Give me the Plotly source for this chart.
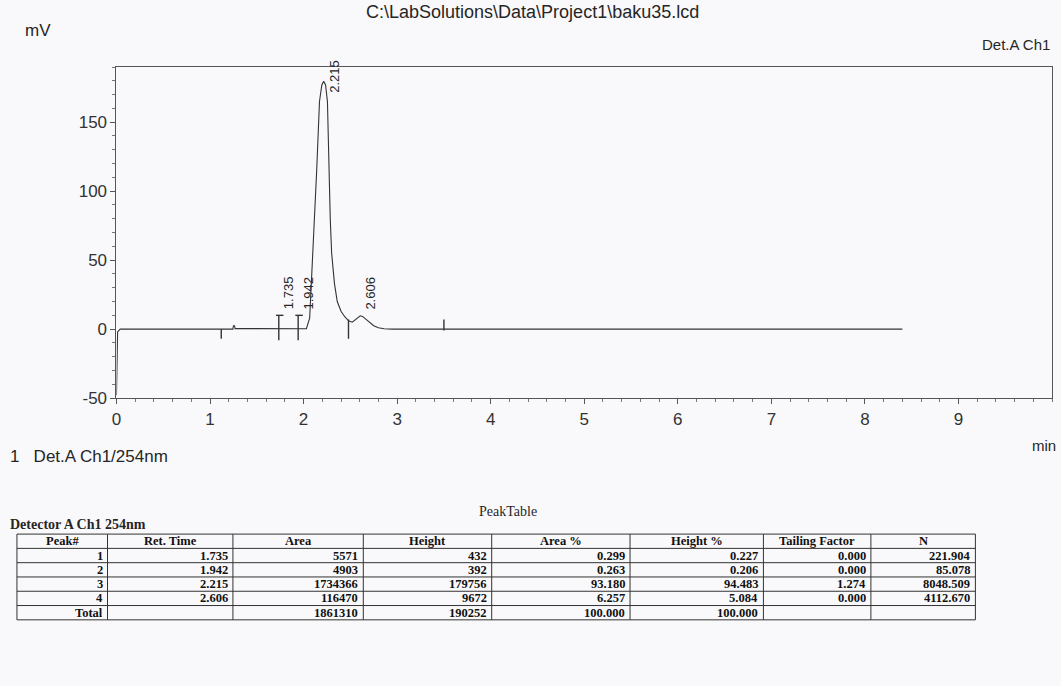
import plotly.graph_objects as go

W, H = 1061, 686

run_file = "C:\\LabSolutions\\Data\\Project1\\baku35.lcd"

# ---- chromatogram, detector A channel 1 (254 nm) ----
sig_time = [0.0, 0.004, 0.012, 0.04, 1.245, 1.25, 1.262, 1.268, 1.46, 1.70,
            1.735, 1.77, 1.91, 1.942, 1.975, 2.03, 2.065, 2.10, 2.14, 2.17,
            2.195, 2.215, 2.235, 2.255, 2.27, 2.285, 2.30, 2.33, 2.36, 2.40,
            2.44, 2.48, 2.52, 2.56, 2.59, 2.606, 2.63, 2.67, 2.71, 2.75,
            2.80, 2.86, 2.95, 8.4]
sig_mv = [-48.0, -30.0, -2.0, 0.0, 0.0, 2.5, 2.5, 0.4, 0.3, 0.0,
          0.432, 0.0, 0.0, 0.392, 0.0, 0.3, 8.0, 55.0, 115.0, 165.0,
          177.0, 179.756, 177.0, 165.0, 120.0, 80.0, 55.0, 33.0, 20.0, 13.0,
          9.0, 6.0, 5.0, 7.5, 9.4, 9.672, 9.2, 7.0, 4.5, 2.5,
          1.0, 0.3, 0.0, 0.0]

# integration event marks on the baseline
evt_time = [1.12, 1.735, 1.942, 2.48, 3.50]
evt_low = [-7.0, -8.0, -8.0, -7.0, -1.0]
evt_high = [0.0, 10.0, 10.0, 7.0, 7.0]
evt_cap = [False, True, True, False, False]

# ---- peak table ----
peak_no = ["1", "2", "3", "4"]
ret_time = [1.735, 1.942, 2.215, 2.606]
area = [5571, 4903, 1734366, 116470]
height = [432, 392, 179756, 9672]          # uV
area_pct = [0.299, 0.263, 93.180, 6.257]
height_pct = [0.227, 0.206, 94.483, 5.084]
tailing = [0.000, 0.000, 1.274, 0.000]
plates_n = [221.904, 85.078, 8048.509, 4112.670]
total_row = ["Total", "", "1861310", "190252", "100.000", "100.000", "", ""]
table_header = ["Peak#", "Ret. Time", "Area", "Height", "Area %",
                "Height %", "Tailing Factor", "N"]

x_ticks = [0, 1, 2, 3, 4, 5, 6, 7, 8, 9]
y_ticks = [-50, 0, 50, 100, 150]

ink = "#262626"
bg = "#f9f9fb"
sans = "Liberation Sans, Arial, sans-serif"
serif = "Liberation Serif, Times New Roman, serif"

fig = go.Figure()

fig.add_trace(go.Scatter(
    x=sig_time, y=sig_mv, mode="lines",
    line=dict(color="#333", width=1.1),
    hoverinfo="skip", showlegend=False,
))

# event marks: vertical strokes, with a small cap on peak-start marks
ex, ey = [], []
for t, lo, hi, cap in zip(evt_time, evt_low, evt_high, evt_cap):
    ex += [t, t, None]
    ey += [lo, hi, None]
    if cap:
        ex += [t - 0.03, t + 0.05, None]
        ey += [hi, hi, None]
fig.add_trace(go.Scatter(
    x=ex, y=ey, mode="lines", line=dict(color="#333", width=1.4),
    hoverinfo="skip", showlegend=False,
))

# retention-time labels, rotated, beside each apex
for t, h in zip(ret_time, height):
    mv = h / 1000.0
    fig.add_annotation(
        x=t, y=max(mv, 10.0), xref="x", yref="y",
        text=f"{t:.3f}", textangle=-90, showarrow=False,
        xanchor="left", yanchor="bottom",
        xshift=1, yshift=(-14 if mv > 100 else 4),
        font=dict(family=sans, size=13, color=ink),
    )

# ---- peak table drawn as ruled grid + text ----
col_edges = [12, 103, 229, 360, 489, 628, 762, 870, 975]   # px
row_edges = [542, 556.5, 571, 585.5, 600, 614.5, 629]       # px

rows = [table_header]
for i in range(len(peak_no)):
    rows.append([
        peak_no[i], f"{ret_time[i]:.3f}", str(area[i]), str(height[i]),
        f"{area_pct[i]:.3f}", f"{height_pct[i]:.3f}",
        f"{tailing[i]:.3f}", f"{plates_n[i]:.3f}",
    ])
rows.append(total_row)

line_style = dict(color="#333", width=1)
for y in row_edges:
    fig.add_shape(type="line", xref="paper", yref="paper",
                  x0=col_edges[0] / W, x1=col_edges[-1] / W,
                  y0=1 - y / H, y1=1 - y / H, line=line_style)
for x in col_edges:
    fig.add_shape(type="line", xref="paper", yref="paper",
                  x0=x / W, x1=x / W,
                  y0=1 - row_edges[0] / H, y1=1 - row_edges[-1] / H,
                  line=line_style)

for r, row in enumerate(rows):
    yc = 1 - (row_edges[r] + row_edges[r + 1]) / 2 / H
    for c, val in enumerate(row):
        if not val:
            continue
        if r == 0:
            xp, anchor = (col_edges[c] + col_edges[c + 1]) / 2, "center"
        else:
            xp, anchor = col_edges[c + 1] - 3, "right"
        fig.add_annotation(
            x=xp / W, y=yc, xref="paper", yref="paper", text=f"<b>{val}</b>",
            showarrow=False, xanchor=anchor, yanchor="middle",
            font=dict(family=serif, size=12.5, color="#111"),
        )

texts = [
    (530, 12, run_file, "center", sans, 18, False),
    (18, 31, "mV", "left", sans, 17, False),
    (1052, 45, "Det.A Ch1", "right", sans, 15, False),
    (1058, 452, "min", "right", sans, 15, False),
    (3, 463, "1   Det.A Ch1/254nm", "left", sans, 17, False),
    (505, 519, "PeakTable", "center", serif, 14, False),
    (3, 532, "Detector A Ch1 254nm", "left", serif, 14, True),
]
for px, py, s, anchor, fam, size, bold in texts:
    fig.add_annotation(
        x=px / W, y=1 - py / H, xref="paper", yref="paper",
        text=(f"<b>{s}</b>" if bold else s), showarrow=False,
        xanchor=anchor, yanchor="middle",
        font=dict(family=fam, size=size, color=ink),
    )

fig.update_layout(
    width=W, height=H,
    margin=dict(l=0, r=0, t=0, b=0),
    paper_bgcolor=bg, plot_bgcolor=bg,
    showlegend=False,
    xaxis=dict(
        domain=[112 / W, 1052 / W], range=[0, 10],
        tickvals=x_ticks, ticktext=[str(v) for v in x_ticks],
        ticks="outside", ticklen=5, tickcolor="#555",
        minor=dict(dtick=0.2, tick0=0, ticks="outside", ticklen=3, tickcolor="#777"),
        showline=True, linecolor="#555", linewidth=1, mirror=True,
        showgrid=False, zeroline=False,
        tickfont=dict(family=sans, size=17, color="#333"),
    ),
    yaxis=dict(
        domain=[1 - 404 / H, 1 - 68 / H], range=[-50, 190],
        tickvals=y_ticks, ticktext=[str(v) for v in y_ticks],
        ticks="outside", ticklen=5, tickcolor="#555",
        minor=dict(dtick=10, tick0=0, ticks="outside", ticklen=3, tickcolor="#777"),
        showline=True, linecolor="#555", linewidth=1, mirror=True,
        showgrid=False, zeroline=False,
        tickfont=dict(family=sans, size=17, color="#333"),
    ),
)

fig.write_html("out.html")
